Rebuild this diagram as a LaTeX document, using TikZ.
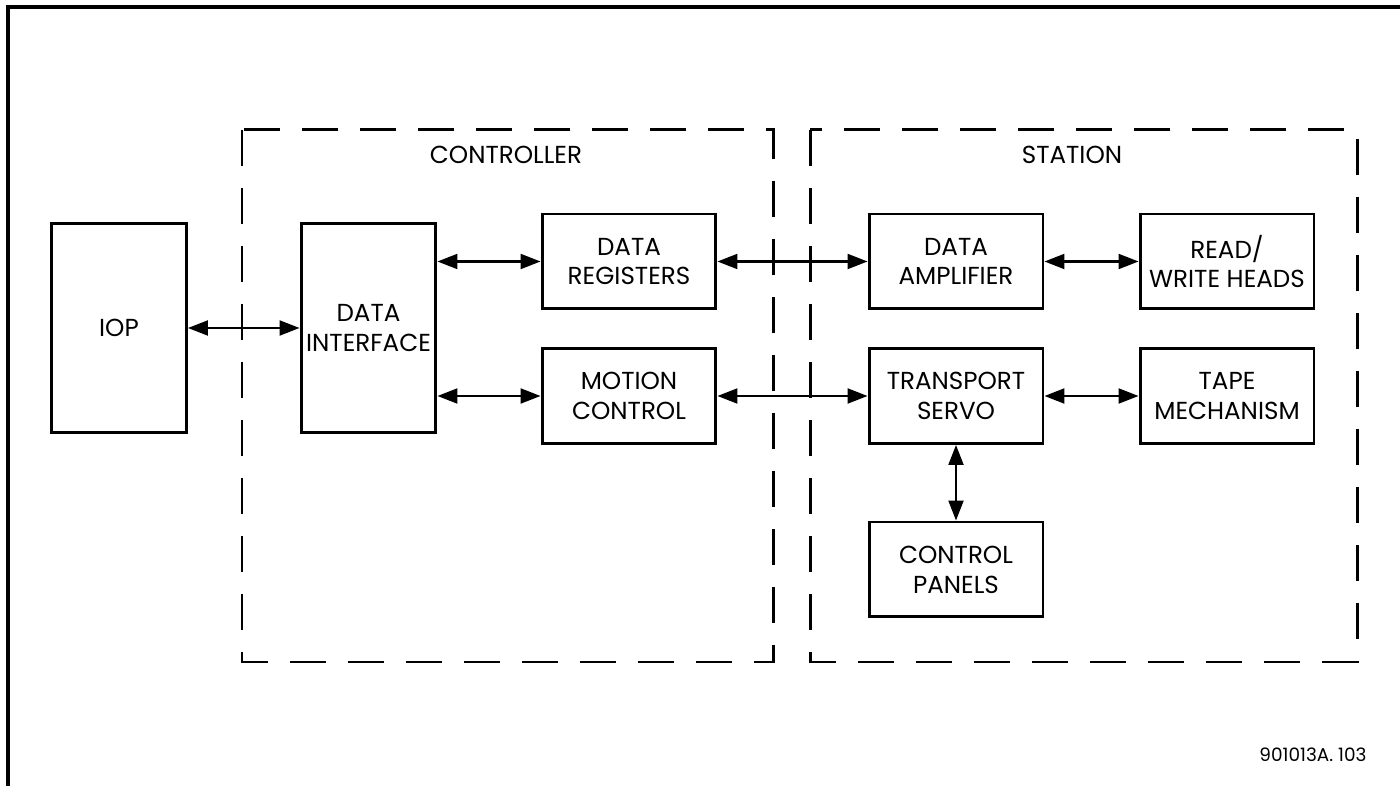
\documentclass[tikz,border=0pt]{standalone}
\usepackage{fontspec}
\setmainfont{Poppins}
\usetikzlibrary{positioning,arrows.meta}
\tikzset{
  linkarrow/.style={{Triangle[length=4mm,width=3mm]}-{Triangle[length=4mm,width=3mm]}, line width=1.2pt},
  unitbox/.style={draw, line width=1.7pt, minimum width=3.48cm, minimum height=1.9cm, inner sep=0pt, align=center},
  tallbox/.style={unitbox, minimum width=2.7cm, minimum height=4.2cm},
  groupbox/.style={line width=1.7pt, dash pattern=on 7.2mm off 4.4mm},
  grouplabel/.style={inner sep=0pt},
  figref/.style={inner sep=0pt, font=\fontsize{10.5}{12}\selectfont}
}

\begin{document}
\begin{tikzpicture}[x=0.02cm, y=-0.02cm, every node/.style={font=\fontsize{14}{17}\selectfont}]
  \useasboundingbox (0,0) rectangle (1400,786);
  % sheet frame
  \draw[line width=2pt] (8,786) -- (8,7) -- (1400,7);

  % controller and station groups
  \draw[groupbox] (242,130) rectangle (773,662);
  \draw[groupbox] (810,130) rectangle (1357,662);
  \node[grouplabel] (ctrllbl) at (506,155) {CONTROLLER};
  \node[grouplabel] (statlbl) at (1072,155) {STATION};

  \node[tallbox] (iop) at (119,328) {IOP};
  \node[tallbox] (dint) at (368.5,328) {DATA\\INTERFACE};
  \node[unitbox] (dreg) at (629,261.5) {DATA\\REGISTERS};
  \node[unitbox] (mctl) at (629,396) {MOTION\\CONTROL};
  \node[unitbox] (damp) at (956,261.5) {DATA\\AMPLIFIER};
  \node[unitbox] (tsrv) at (956,396) {TRANSPORT\\SERVO};
  \node[unitbox] (rwh) at (1227,261.5) {READ/\\WRITE HEADS};
  \node[unitbox] (tmech) at (1227,396) {TAPE\\MECHANISM};
  \node[unitbox] (cpan) at (956,569.5) {CONTROL\\PANELS};

  \draw[linkarrow] (iop.east) -- (dint.west);
  \draw[linkarrow] (dint.east |- dreg.west) -- (dreg.west);
  \draw[linkarrow] (dint.east |- mctl.west) -- (mctl.west);
  \draw[linkarrow] (dreg.east) -- (damp.west);
  \draw[linkarrow] (mctl.east) -- (tsrv.west);
  \draw[linkarrow] (damp.east) -- (rwh.west);
  \draw[linkarrow] (tsrv.east) -- (tmech.west);
  \draw[linkarrow] (tsrv.south) -- (cpan.north);

  \node[figref] (fignum) at (1313,755) {901013A. 103};
\end{tikzpicture}
\end{document}
